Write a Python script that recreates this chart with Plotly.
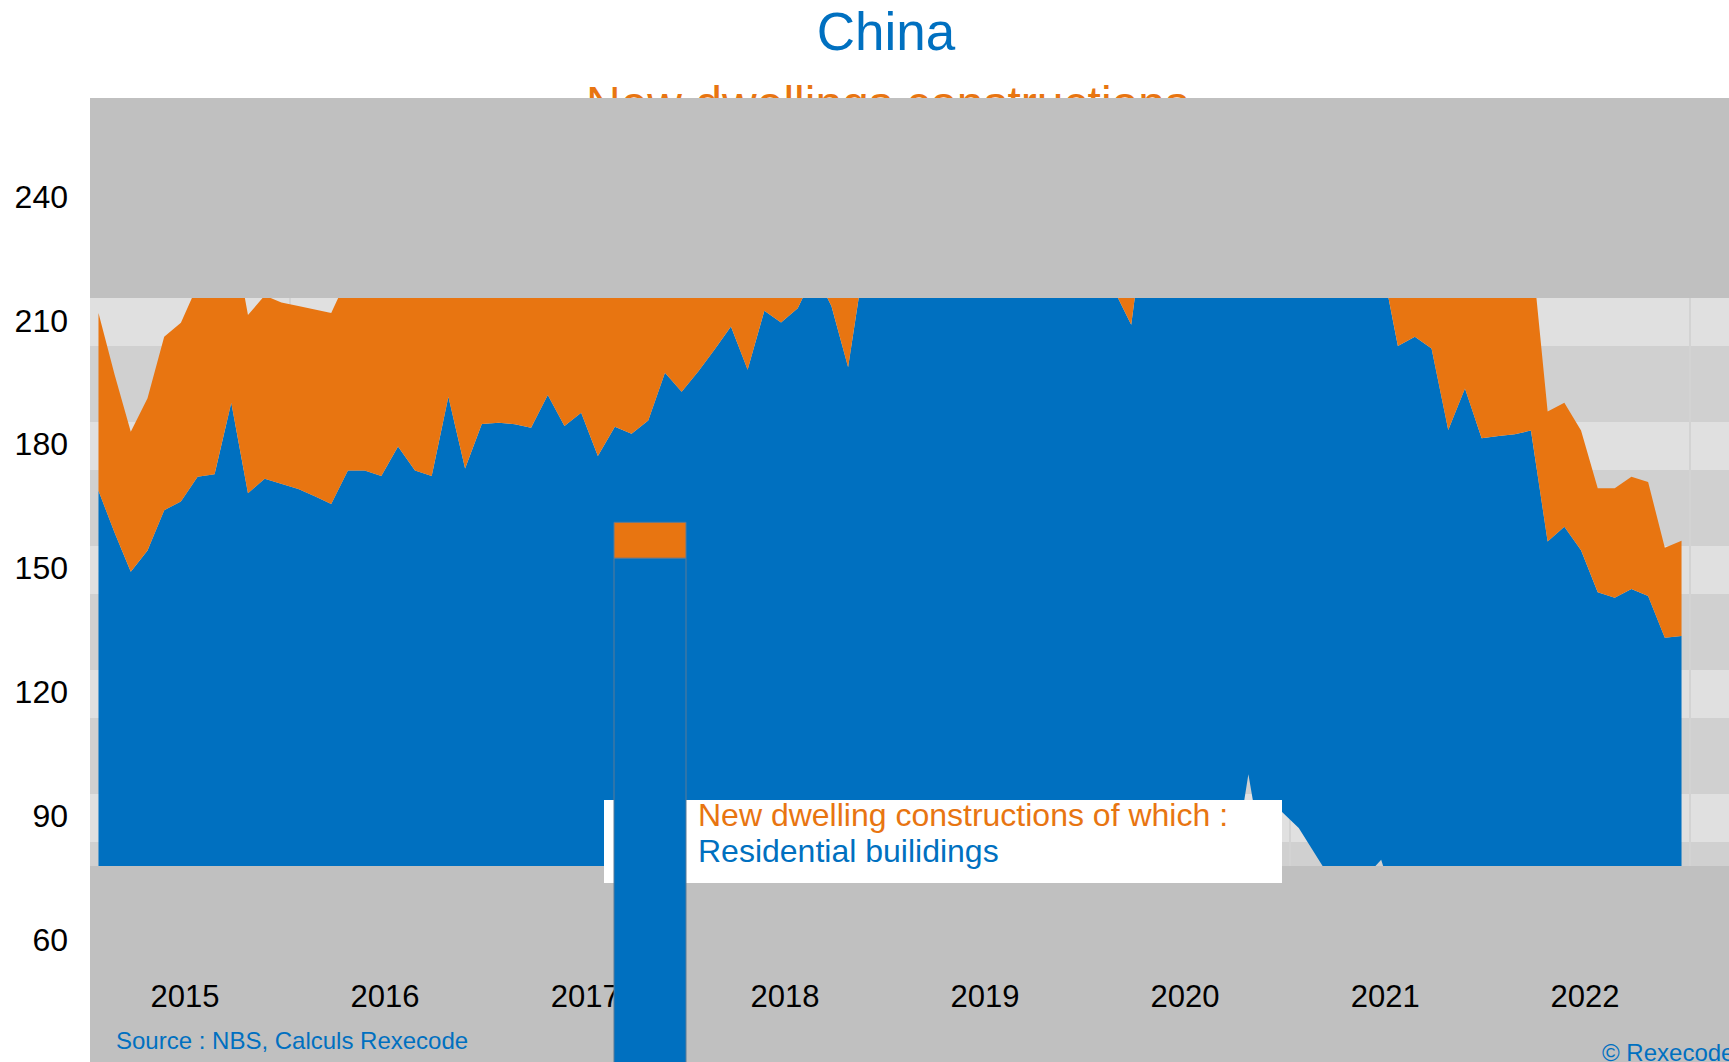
import pandas as pd
import plotly.graph_objects as go

# ---------------- data ----------------
months = pd.date_range("2015-01-01", periods=96, freq="MS")

# New dwelling constructions (total) – orange top
total = [
    212.3, 197.3, 183.5, 191.6, 206.5, 209.9, 219.0, 228.0, 234.0, 211.8, 216.5, 214.8,   # 2015
    214.0, 213.2, 212.3, 221.0, 224.0, 222.5, 228.0, 223.0, 225.5, 236.0, 226.0, 232.0,   # 2016
    233.5, 234.0, 232.0, 239.0, 233.5, 236.0, 229.0, 235.5, 234.0, 237.0, 245.0, 241.0,   # 2017
    246.0, 249.0, 252.0, 244.0, 255.0, 252.0, 254.0, 258.0, 253.0, 246.0, 260.0, 259.0,   # 2018
    262.0, 258.0, 263.0, 266.0, 261.0, 259.0, 264.0, 267.0, 262.0, 258.0, 255.0, 260.0,   # 2019
    252.0, 246.0, 240.0, 265.0, 258.0, 255.0, 257.0, 260.0, 256.0, 254.0, 259.0, 262.0,   # 2020
    259.0, 263.0, 257.0, 254.0, 251.0, 249.0, 236.0, 238.0, 235.0, 226.0, 231.0, 224.0,   # 2021
    225.0, 227.0, 229.4, 188.4, 190.5, 183.8, 169.8, 169.8, 172.6, 171.3, 155.4, 157.1,   # 2022
]

# of which residential buildings – blue top
residential = [
    169.2, 159.0, 149.6, 154.7, 164.5, 166.6, 172.6, 173.2, 190.5, 168.6, 172.1, 170.8,   # 2015
    169.6, 167.9, 166.0, 174.1, 174.1, 172.8, 179.9, 174.1, 172.8, 192.0, 174.6, 185.4,   # 2016
    185.7, 185.3, 184.5, 192.4, 184.9, 188.1, 177.6, 184.7, 183.0, 186.2, 197.8, 193.2,   # 2017
    198.2, 203.5, 209.0, 198.5, 212.8, 210.0, 213.4, 222.0, 214.0, 199.1, 225.6, 228.0,   # 2018
    230.5, 227.0, 232.0, 234.5, 231.0, 229.5, 233.0, 236.0, 232.5, 228.5, 226.0, 230.0,   # 2019
    224.0, 217.5, 209.4, 240.0, 232.0, 229.0, 231.5, 234.0, 230.0, 228.0, 232.5, 235.0,   # 2020
    233.0, 236.5, 231.0, 229.0, 227.5, 225.0, 204.3, 206.5, 203.7, 183.9, 194.0, 181.9,   # 2021
    182.5, 182.9, 183.8, 156.9, 160.5, 154.8, 144.6, 143.3, 145.4, 143.7, 133.6, 134.0,   # 2022
]

# lower edge of the blue fill
lower = [
    62.0, 60.5, 58.0, 61.0, 63.5, 62.0, 64.0, 61.5, 60.0, 62.5, 63.0, 61.0,   # 2015
    60.0, 59.5, 61.0, 62.0, 63.5, 64.0, 62.5, 61.0, 63.0, 64.5, 62.0, 63.0,   # 2016
    61.5, 60.0, 62.0, 63.5, 64.0, 62.5, 61.0, 63.0, 64.0, 65.0, 63.5, 62.0,   # 2017
    61.0, 62.5, 64.0, 63.0, 65.0, 64.5, 63.0, 62.0, 64.0, 65.5, 64.0, 63.0,   # 2018
    62.0, 60.0, 63.0, 64.5, 65.0, 63.5, 62.0, 64.0, 66.0, 65.0, 64.0, 62.5,   # 2019
    58.0, 45.0, 55.0, 62.0, 66.0, 68.0, 70.0, 72.0, 75.0, 100.5, 77.0, 91.4,  # 2020
    87.5, 81.4, 75.0, 71.0, 75.5, 79.8, 67.0, 64.0, 63.0, 62.0, 61.0, 60.0,   # 2021
    59.0, 58.0, 57.0, 56.0, 55.0, 54.0, 53.0, 52.0, 51.0, 50.0, 49.0, 48.0,   # 2022
]

y_tick_vals = [60, 90, 120, 150, 180, 210, 240]
band_vals = [45, 75, 105, 135, 165, 195, 225, 255]

title_text = "China"
subtitle_text = "New dwellings constructions"
legend_total = "New dwelling constructions of which :"
legend_resid = "Residential builidings"
source_text = "Source : NBS, Calculs Rexecode"
copyright_text = "© Rexecode"

# ---------------- styling ----------------
W, H = 1729, 1062
ML, MR, MT, MB = 90, 0, 150, 87
BLUE = "#0070C0"
ORANGE = "#E87511"
GREY = "#C0C0C0"
FONT = "Liberation Sans, Arial, sans-serif"


def px(x):
    return (x - ML) / (W - ML - MR)


def py(y):
    return (H - MB - y) / (H - MT - MB)


fig = go.Figure()
common = dict(x=months, xperiod="M1", xperiodalignment="middle", mode="lines",
              hoverinfo="skip", showlegend=False)
fig.add_trace(go.Scatter(y=lower, line=dict(width=0, color=BLUE), **common))
fig.add_trace(go.Scatter(y=residential, fill="tonexty", fillcolor=BLUE,
                         line=dict(width=0, color=BLUE), name=legend_resid, **common))
fig.add_trace(go.Scatter(y=total, fill="tonexty", fillcolor=ORANGE,
                         line=dict(width=0, color=ORANGE), name=legend_total, **common))

shapes = [
    # grey band covering the bottom of the plotting area (above traces)
    dict(type="rect", xref="paper", yref="paper", x0=px(90), x1=px(W), y0=py(975), y1=py(866),
         fillcolor=GREY, line=dict(width=0), layer="above"),
    # grey band under the x tick labels
    dict(type="rect", xref="paper", yref="paper", x0=px(90), x1=px(W), y0=py(H + 5), y1=py(975),
         fillcolor=GREY, line=dict(width=0), layer="below"),
    # legend box
    dict(type="rect", xref="paper", yref="paper", x0=px(604), x1=px(1282), y0=py(883), y1=py(800),
         fillcolor="white", line=dict(width=0), layer="above"),
    # legend patches
    dict(type="rect", xref="paper", yref="paper", x0=px(614), x1=px(686), y0=py(558.3), y1=py(522.3),
         fillcolor=ORANGE, line=dict(width=1, color="#5B7A96"), layer="above"),
    dict(type="rect", xref="paper", yref="paper", x0=px(614), x1=px(686), y0=py(H + 10), y1=py(558.3),
         fillcolor=BLUE, line=dict(width=1, color="#5B7A96"), layer="above"),
]

annotations = [
    dict(text=subtitle_text, xref="paper", yref="paper", x=px(887.5), y=py(103),
         xanchor="center", yanchor="middle", showarrow=False,
         font=dict(size=48, color=ORANGE, family=FONT)),
    # grey band covering the top of the plotting area and the subtitle
    dict(text=" ", xref="paper", yref="paper", x=px(90), y=py(98), xanchor="left", yanchor="top",
         width=W - 90, height=200, bgcolor=GREY, borderpad=0, borderwidth=0, showarrow=False,
         font=dict(size=10, color=GREY)),
    dict(text=legend_total, xref="paper", yref="paper", x=px(697), y=py(815), xanchor="left",
         yanchor="middle", showarrow=False, borderpad=0,
         font=dict(size=32, color=ORANGE, family=FONT)),
    dict(text=legend_resid, xref="paper", yref="paper", x=px(697), y=py(851), xanchor="left",
         yanchor="middle", showarrow=False, borderpad=0,
         font=dict(size=32, color=BLUE, family=FONT)),
    dict(text=source_text, xref="paper", yref="paper", x=px(115), y=py(1040), xanchor="left",
         yanchor="middle", showarrow=False, borderpad=0,
         font=dict(size=24, color=BLUE, family=FONT)),
    dict(text=copyright_text, xref="paper", yref="paper", x=px(1601), y=py(1052), xanchor="left",
         yanchor="middle", showarrow=False, borderpad=0,
         font=dict(size=24, color=BLUE, family=FONT)),
]

fig.update_layout(
    width=W, height=H, autosize=False,
    margin=dict(l=ML, r=MR, t=MT, b=MB, pad=0),
    paper_bgcolor="white", plot_bgcolor="#E0E0E0",
    font=dict(family=FONT, color="black"),
    showlegend=False,
    title=dict(text=title_text, font=dict(size=53, color=BLUE, family=FONT),
               xref="container", yref="container", x=886 / W, xanchor="center",
               y=1 - 31.6 / H, yanchor="middle"),
    xaxis=dict(type="date", range=["2015-01-01", "2023-03-13 05:00"],
               tick0="2015-01-01", dtick="M12", tickformat="%Y", ticklabelmode="period",
               showgrid=True, gridcolor="#D3D3D3", gridwidth=2,
               zeroline=False, showline=False, ticks="",
               tickfont=dict(size=31, color="black"), ticklabelshift=-5),
    yaxis=dict(range=[51.87, 251.77], tickmode="array", tickvals=y_tick_vals,
               showgrid=False, zeroline=False, showline=False, ticks="",
               tickfont=dict(size=32, color="black"), ticklabelstandoff=21,
               ticklabelshift=-2,
               minor=dict(tickmode="array", tickvals=band_vals, showgrid=True,
                          gridcolor="#D0D0D0", gridwidth=76, ticks="")),
    shapes=shapes,
    annotations=annotations,
)

fig.write_html("out.html")
